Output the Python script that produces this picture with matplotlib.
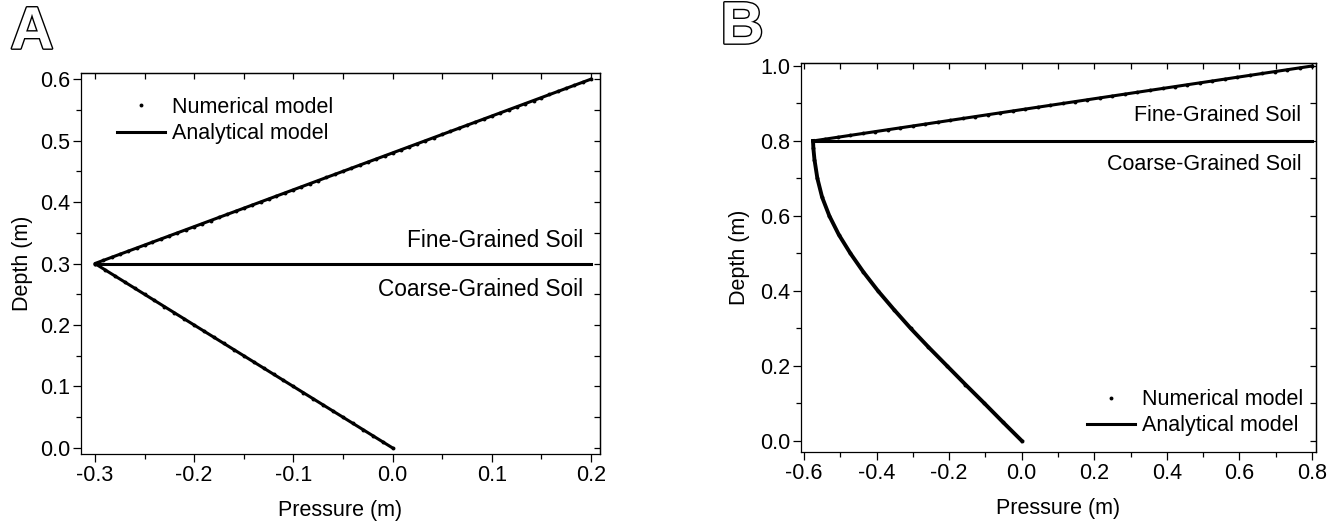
import matplotlib.pyplot as plt
import matplotlib.patheffects as pe
from matplotlib.ticker import MultipleLocator

plt.rcParams['font.family'] = ['Liberation Sans', 'DejaVu Sans']
plt.rcParams['font.size'] = 15.5
plt.rcParams['axes.unicode_minus'] = False

# ---- panel A: two layers, interface at 0.3 m ----
a_fine_depth = [0.300, 0.305, 0.310, 0.315, 0.320, 0.325, 0.330, 0.335, 0.340, 0.345,
                0.350, 0.355, 0.360, 0.365, 0.370, 0.375, 0.380, 0.385, 0.390, 0.395,
                0.400, 0.405, 0.410, 0.415, 0.420, 0.425, 0.430, 0.435, 0.440, 0.445,
                0.450, 0.455, 0.460, 0.465, 0.470, 0.475, 0.480, 0.485, 0.490, 0.495,
                0.500, 0.505, 0.510, 0.515, 0.520, 0.525, 0.530, 0.535, 0.540, 0.545,
                0.550, 0.555, 0.560, 0.565, 0.570, 0.575, 0.580, 0.585, 0.590, 0.595,
                0.600]
a_fine_num = [-0.300, -0.292, -0.283, -0.275, -0.267, -0.258, -0.250, -0.242, -0.233, -0.225,
              -0.217, -0.208, -0.200, -0.192, -0.183, -0.175, -0.167, -0.158, -0.150, -0.142,
              -0.133, -0.125, -0.117, -0.108, -0.100, -0.092, -0.083, -0.075, -0.067, -0.058,
              -0.050, -0.042, -0.033, -0.025, -0.017, -0.008, 0.000, 0.008, 0.017, 0.025,
              0.033, 0.042, 0.050, 0.058, 0.067, 0.075, 0.083, 0.092, 0.100, 0.108,
              0.117, 0.125, 0.133, 0.142, 0.150, 0.158, 0.167, 0.175, 0.183, 0.192,
              0.200]
a_coarse_depth = [0.00, 0.01, 0.02, 0.03, 0.04, 0.05, 0.06, 0.07, 0.08, 0.09, 0.10,
                  0.11, 0.12, 0.13, 0.14, 0.15, 0.16, 0.17, 0.18, 0.19, 0.20,
                  0.21, 0.22, 0.23, 0.24, 0.25, 0.26, 0.27, 0.28, 0.29, 0.30]
a_coarse_num = [0.00, -0.01, -0.02, -0.03, -0.04, -0.05, -0.06, -0.07, -0.08, -0.09, -0.10,
                -0.11, -0.12, -0.13, -0.14, -0.15, -0.16, -0.17, -0.18, -0.19, -0.20,
                -0.21, -0.22, -0.23, -0.24, -0.25, -0.26, -0.27, -0.28, -0.29, -0.30]
a_ana_p = [0.0, -0.3, 0.2]
a_ana_z = [0.0, 0.3, 0.6]
a_iface_p = [-0.3, 0.2]
a_iface_z = [0.3, 0.3]

# ---- panel B: interface at 0.8 m ----
b_fine_depth = [0.800, 0.805, 0.810, 0.815, 0.820, 0.825, 0.830, 0.835, 0.840, 0.845,
                0.850, 0.855, 0.860, 0.865, 0.870, 0.875, 0.880, 0.885, 0.890, 0.895,
                0.900, 0.905, 0.910, 0.915, 0.920, 0.925, 0.930, 0.935, 0.940, 0.945,
                0.950, 0.955, 0.960, 0.965, 0.970, 0.975, 0.980, 0.985, 0.990, 0.995,
                1.000]
b_fine_num = [-0.575, -0.541, -0.506, -0.472, -0.438, -0.403, -0.369, -0.334, -0.300, -0.266,
              -0.231, -0.197, -0.163, -0.128, -0.094, -0.059, -0.025, 0.009, 0.044, 0.078,
              0.113, 0.147, 0.181, 0.216, 0.250, 0.284, 0.319, 0.353, 0.388, 0.422,
              0.456, 0.491, 0.525, 0.559, 0.594, 0.628, 0.663, 0.697, 0.731, 0.766,
              0.800]
b_coarse_depth = [0.00, 0.05, 0.10, 0.15, 0.20, 0.25, 0.30, 0.35, 0.40,
                  0.45, 0.50, 0.55, 0.60, 0.65, 0.70, 0.75, 0.78, 0.80]
b_coarse_p = [0.000, -0.052, -0.103, -0.155, -0.206, -0.257, -0.306, -0.352, -0.396,
              -0.436, -0.472, -0.504, -0.530, -0.550, -0.563, -0.571, -0.574, -0.575]
b_ana_fine_p = [-0.575, 0.8]
b_ana_fine_z = [0.8, 1.0]
b_iface_p = [-0.575, 0.8]
b_iface_z = [0.8, 0.8]

LW = 2.2
MS = 2.8
FS = 15.5

fig = plt.figure(figsize=(13.28, 5.22), dpi=100)
axA = fig.add_axes([0.0610, 0.1303, 0.3908, 0.7299])
axB = fig.add_axes([0.6032, 0.1341, 0.3878, 0.7452])


def style(ax, xmaj, xmin, ymaj, ymin):
    ax.xaxis.set_major_locator(MultipleLocator(xmaj))
    ax.xaxis.set_minor_locator(MultipleLocator(xmin))
    ax.yaxis.set_major_locator(MultipleLocator(ymaj))
    ax.yaxis.set_minor_locator(MultipleLocator(ymin))
    ax.tick_params(which='major', direction='out', length=6, width=0.9, pad=2, labelsize=FS)
    ax.tick_params(which='minor', direction='out', length=3.5, width=0.9)
    for s in ax.spines.values():
        s.set_linewidth(0.9)
    top = ax.secondary_xaxis('top')
    right = ax.secondary_yaxis('right')
    top.xaxis.set_major_locator(MultipleLocator(xmaj))
    top.xaxis.set_minor_locator(MultipleLocator(xmin))
    right.yaxis.set_major_locator(MultipleLocator(ymaj))
    right.yaxis.set_minor_locator(MultipleLocator(ymin))
    for sec in (top, right):
        sec.tick_params(which='both', direction='in', length=4.5, width=0.9,
                        labeltop=False, labelright=False, labelleft=False, labelbottom=False)
        for s in sec.spines.values():
            s.set_linewidth(0.9)


# panel A
axA.plot(a_fine_num, a_fine_depth, 'o', color='black', ms=MS, mew=0, label='Numerical model')
axA.plot(a_coarse_num, a_coarse_depth, 'o', color='black', ms=MS, mew=0)
axA.plot(a_ana_p, a_ana_z, '-', color='black', lw=LW, label='Analytical model')
axA.plot(a_iface_p, a_iface_z, '-', color='black', lw=LW)
axA.set_xlim(-0.314, 0.209)
axA.set_ylim(-0.0098, 0.61)
style(axA, 0.1, 0.05, 0.1, 0.05)
axA.set_xlabel('Pressure (m)', fontsize=FS, labelpad=10)
axA.set_ylabel('Depth (m)', fontsize=FS, labelpad=5)
axA.text(0.192, 0.337, 'Fine-Grained Soil', ha='right', va='center', fontsize=16.3)
axA.text(0.192, 0.257, 'Coarse-Grained Soil', ha='right', va='center', fontsize=16.3)
axA.legend(loc='upper left', bbox_to_anchor=(0.069, 0.937), frameon=False, fontsize=FS,
           borderpad=0, borderaxespad=0, handlelength=2.25, handletextpad=0.3,
           labelspacing=0.25)

# panel B
axB.plot(b_fine_num, b_fine_depth, 'o', color='black', ms=MS, mew=0, label='Numerical model')
axB.plot(b_coarse_p, b_coarse_depth, 'o', color='black', ms=MS, mew=0)
axB.plot(b_ana_fine_p, b_ana_fine_z, '-', color='black', lw=LW, label='Analytical model')
axB.plot(b_coarse_p, b_coarse_depth, '-', color='black', lw=LW + 0.6, solid_joinstyle='round')
axB.plot(b_iface_p, b_iface_z, '-', color='black', lw=LW)
axB.set_xlim(-0.608, 0.811)
axB.set_ylim(-0.03, 1.008)
style(axB, 0.2, 0.1, 0.2, 0.1)
axB.set_xlabel('Pressure (m)', fontsize=FS, labelpad=10)
axB.set_ylabel('Depth (m)', fontsize=FS, labelpad=7)
axB.text(0.77, 0.867, 'Fine-Grained Soil', ha='right', va='center', fontsize=FS)
axB.text(0.77, 0.736, 'Coarse-Grained Soil', ha='right', va='center', fontsize=FS)
axB.legend(loc='lower right', bbox_to_anchor=(0.975, 0.04), frameon=False, fontsize=FS,
           borderpad=0, borderaxespad=0, handlelength=2.25, handletextpad=0.3,
           labelspacing=0.25)

# hollow panel letters
outline = [pe.withStroke(linewidth=2.0, foreground='black')]
fig.text(32 / 1328, 1 - 33 / 522, 'A', ha='center', va='center', fontsize=43,
         fontweight='bold', color='white', path_effects=outline)
fig.text(742 / 1328, 1 - 28 / 522, 'B', ha='center', va='center', fontsize=43,
         fontweight='bold', color='white', path_effects=outline)

fig.savefig('out.png', dpi=100)
